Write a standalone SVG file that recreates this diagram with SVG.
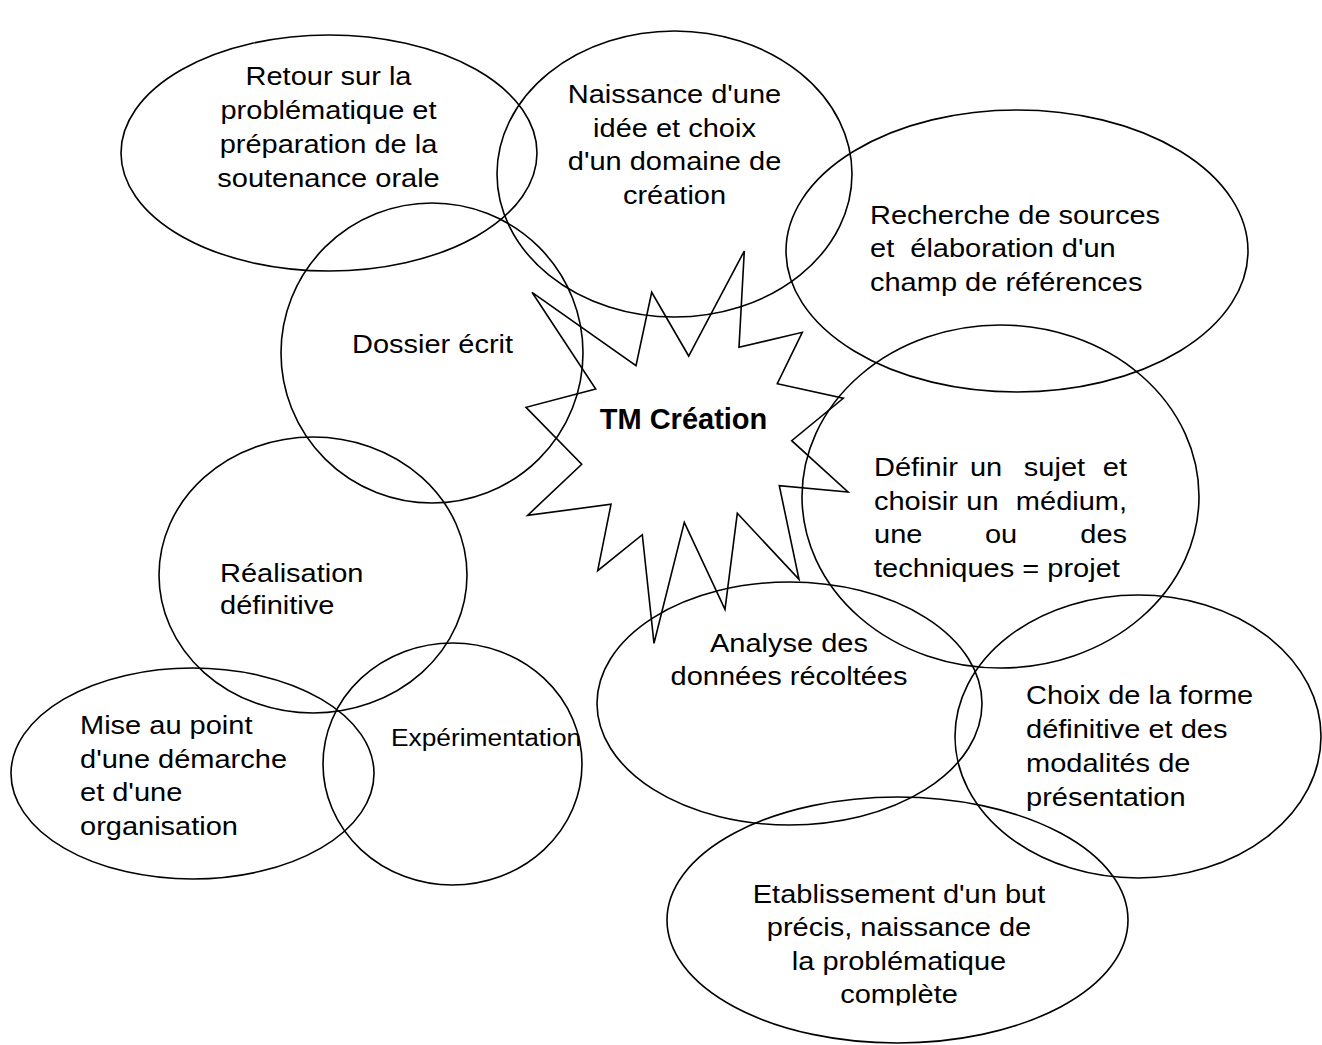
<svg xmlns="http://www.w3.org/2000/svg" width="1322" height="1045" viewBox="0 0 1322 1045">
<style>
.sh{fill:none;stroke:#000;stroke-width:1.6}
text{font-family:"Liberation Sans",Arial,sans-serif;font-size:26.5px;fill:#000}
.c{text-anchor:middle}
.e{text-anchor:end}
.b{font-weight:bold;font-size:29px}
.sm{font-size:24.5px}
</style>
<defs>
<clipPath id="clipBottom"><rect x="0" y="0" width="1322" height="1005.5"/></clipPath>
</defs>
<rect width="1322" height="1045" fill="#fff"/>
<g id="connectors"/>
<g id="center">
<polygon class="sh" points="532,292.3 636,365.7 651.7,292.3 688.7,356 744.3,251 739,347.3 802.3,332.3 777.3,383.7 843.3,398.3 791.7,440.7 848,492 779.3,485.7 799,579.3 737.3,513.3 725,609.3 684.3,522.3 654,643.3 642.3,534.7 597.7,570.7 611,504.3 527.7,515.3 581.7,464.3 526,407.3 595.7,389"/>
<text class="c b" x="683.5" y="429">TM Création</text>
</g>
<g id="retour">
<ellipse class="sh" cx="329" cy="153" rx="208" ry="118"/>
<g transform="translate(328.5 0) scale(1.095 1)">
<text class="c" x="0" y="85">Retour sur la</text>
<text class="c" x="0" y="119">problématique et</text>
<text class="c" x="0" y="153">préparation de la</text>
<text class="c" x="0" y="187">soutenance orale</text>
</g>
</g>
<g id="naissance">
<ellipse class="sh" cx="674.5" cy="174" rx="177.5" ry="143"/>
<g transform="translate(674.5 0) scale(1.095 1)">
<text class="c" x="0" y="103">Naissance d'une</text>
<text class="c" x="0" y="137">idée et choix</text>
<text class="c" x="0" y="170">d'un domaine de</text>
<text class="c" x="0" y="204">création</text>
</g>
</g>
<g id="recherche">
<ellipse class="sh" cx="1017" cy="251" rx="231" ry="141"/>
<g transform="translate(870 0) scale(1.095 1)">
<text x="0" y="224">Recherche de sources</text>
<text x="0" y="257" xml:space="preserve">et  élaboration d'un</text>
<text x="0" y="291">champ de références</text>
</g>
</g>
<g id="dossier">
<ellipse class="sh" cx="432" cy="353" rx="151" ry="150"/>
<g transform="translate(432.5 0) scale(1.095 1)">
<text class="c" x="0" y="353">Dossier écrit</text>
</g>
</g>
<g id="definir">
<ellipse class="sh" cx="1000.5" cy="496.5" rx="198.5" ry="171.5"/>
<g transform="translate(874 0) scale(1.095 1)">
<text x="0" y="476">Définir</text>
<text class="c" x="102.3" y="476">un</text>
<text class="c" x="164.8" y="476">sujet</text>
<text class="e" x="231.1" y="476">et</text>
<text x="0" y="510">choisir</text>
<text class="c" x="99.1" y="510">un</text>
<text class="e" x="231.1" y="510">médium,</text>
<text x="0" y="543">une</text>
<text class="c" x="116" y="543">ou</text>
<text class="e" x="231.1" y="543">des</text>
<text x="0" y="577">techniques = projet</text>
</g>
</g>
<g id="realisation">
<ellipse class="sh" cx="313" cy="575" rx="154" ry="138"/>
<g transform="translate(220 0) scale(1.095 1)">
<text x="0" y="582">Réalisation</text>
<text x="0" y="614">définitive</text>
</g>
</g>
<g id="analyse">
<ellipse class="sh" cx="789.5" cy="703.5" rx="192.5" ry="121.5"/>
<g transform="translate(789 0) scale(1.095 1)">
<text class="c" x="0" y="652">Analyse des</text>
<text class="c" x="0" y="685">données récoltées</text>
</g>
</g>
<g id="mise">
<ellipse class="sh" cx="192.5" cy="773.5" rx="181.5" ry="105.5"/>
<g transform="translate(80 0) scale(1.095 1)">
<text x="0" y="734">Mise au point</text>
<text x="0" y="768">d'une démarche</text>
<text x="0" y="801">et d'une</text>
<text x="0" y="835">organisation</text>
</g>
</g>
<g id="experimentation">
<ellipse class="sh" cx="452.5" cy="764" rx="129.5" ry="121"/>
<g transform="translate(391 0) scale(1.075 1)">
<text class="sm" x="0" y="746">Expérimentation</text>
</g>
</g>
<g id="choix">
<ellipse class="sh" cx="1138" cy="736.5" rx="183" ry="141.5"/>
<g transform="translate(1026 0) scale(1.095 1)">
<text x="0" y="704">Choix de la forme</text>
<text x="0" y="738">définitive et des</text>
<text x="0" y="772">modalités de</text>
<text x="0" y="806">présentation</text>
</g>
</g>
<g id="etablissement">
<ellipse class="sh" cx="897.5" cy="920" rx="230.5" ry="123"/>
<g clip-path="url(#clipBottom)">
<g transform="translate(899 0) scale(1.095 1)">
<text class="c" x="0" y="903">Etablissement d'un but</text>
<text class="c" x="0" y="936">précis, naissance de</text>
<text class="c" x="0" y="970">la problématique</text>
<text class="c" x="0" y="1003">complète</text>
</g>
</g>
</g>
</svg>
